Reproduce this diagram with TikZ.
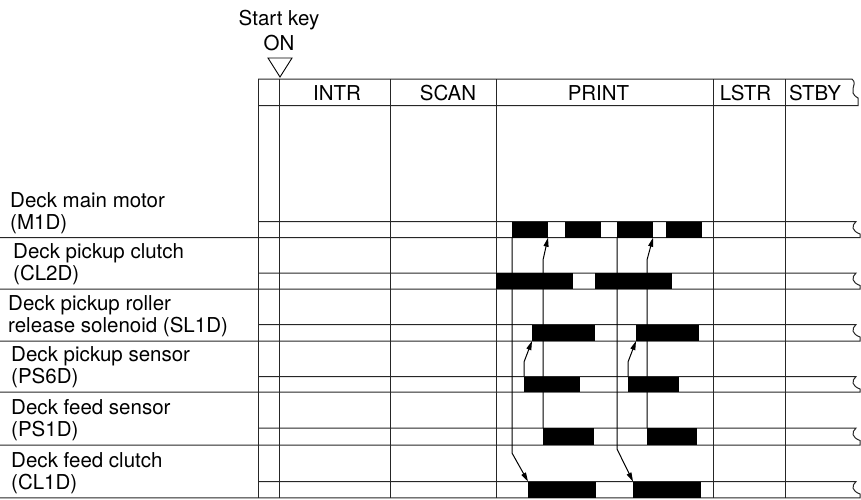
\documentclass[tikz,border=0pt]{standalone}
\usepackage{fontspec}
\setmainfont{TeX Gyre Heros}
\usetikzlibrary{fit}
\usetikzlibrary{arrows.meta,positioning}

\begin{document}
\begin{tikzpicture}[
    x=1pt,
    y=-1pt,
    >={Stealth[length=9pt,width=5pt,inset=0pt]},
    every node/.style={
        font=\fontsize{20.5}{21.5}\selectfont,
        inner sep=0pt
    },
    grid/.style={
        line width=1pt,
        black!85
    },
    bar/.style={
        rectangle,
        fill=black,
        inner sep=0pt,
        outer sep=0pt
    },
    signame/.style={
        anchor=south west,
        align=left
    },
    phase/.style={
        anchor=base
    },
    trig/.style={
        ->,
        line width=1pt
    }
]

\useasboundingbox (0,0) rectangle (861,499);

% Start key
\node[phase] (startkey) at (279,25) {Start key};
\node[phase] (on) at (279,50) {ON};
\draw[line width=0.9pt] (268,58) -- (292,58) -- (280,77) -- cycle;

% Header
\draw[grid] (258,79) -- (852,79)
    .. controls (859,85) and (846,91) .. (858,98) -- (858,105.5) -- (258,105.5);
\node[phase] (intr) at (337,100) {INTR};
\node[phase] (scan) at (448,100) {SCAN};
\node[phase] (print) at (598.5,100) {PRINT};
\node[phase] (lstr) at (745.5,100) {LSTR};
\node[phase] (stby) at (815,100) {STBY};

% Rows
\draw[grid] (258,221.5) -- (856,221.5)
    .. controls (851,226) and (852,231) .. (860,234) -- (860,237.7) -- (0,237.7);
\draw[grid] (258,273) -- (856,273)
    .. controls (851,277.5) and (852,282.5) .. (860,285.5) -- (860,289) -- (0,289);
\draw[grid] (258,324.5) -- (856,324.5)
    .. controls (851,329) and (852,334) .. (860,337) -- (860,341) -- (0,341);
\draw[grid] (258,376.5) -- (856,376.5)
    .. controls (851,381) and (852,386) .. (860,389) -- (860,392) -- (0,392);
\draw[grid] (258,428) -- (856,428)
    .. controls (851,432.5) and (852,437.5) .. (860,440.5) -- (860,445) -- (0,445);
\draw[grid] (258,481.5) -- (856,481.5)
    .. controls (851,486) and (852,491) .. (860,494) -- (860,497.8) -- (0,497.8);

% Columns
\draw[grid] (258,79) -- (258,497.8);
\draw[grid] (279,79) -- (279,497.8);
\draw[grid] (390,79) -- (390,497.8);
\draw[grid] (496,79) -- (496,497.8);
\draw[grid] (713,79) -- (713,497.8);
\draw[grid] (785,79) -- (785,497.8);

% Signal names
\node[signame] (m1d) at (10,233.7) {Deck main motor\\(M1D)};
\node[signame] (cl2d) at (13,285) {Deck pickup clutch\\(CL2D)};
\node[signame] (sl1d) at (8,337) {Deck pickup roller\\release solenoid (SL1D)};
\node[signame] (ps6d) at (11,388) {Deck pickup sensor\\(PS6D)};
\node[signame] (ps1d) at (11,441) {Deck feed sensor\\(PS1D)};
\node[signame] (cl1d) at (11,493.8) {Deck feed clutch\\(CL1D)};

% M1D
\node[bar, fit={(512,221.5) (548,237.7)}] (mA) {};
\node[bar, fit={(565,221.5) (601,237.7)}] (mB) {};
\node[bar, fit={(617,221.5) (653,237.7)}] (mC) {};
\node[bar, fit={(666,221.5) (702,237.7)}] (mD) {};

% CL2D
\node[bar, fit={(496,273) (573,289)}] (cA) {};
\node[bar, fit={(595,273) (672,289)}] (cB) {};

% SL1D
\node[bar, fit={(532,324.5) (595,341)}] (sA) {};
\node[bar, fit={(636,324.5) (699,341)}] (sB) {};

% PS6D
\node[bar, fit={(524,376.5) (580,392)}] (pA) {};
\node[bar, fit={(628,376.5) (679,392)}] (pB) {};

% PS1D
\node[bar, fit={(543,428) (594,445)}] (fA) {};
\node[bar, fit={(647,428) (697,445)}] (fB) {};

% CL1D
\node[bar, fit={(528,481.5) (596,497.8)}] (dA) {};
\node[bar, fit={(633,481.5) (701,497.8)}] (dB) {};

% Timing arrows
\coordinate (kA) at (543,260);
\coordinate (kB) at (647,260);
\coordinate (kC) at (524,362);
\coordinate (kD) at (628,362);
\coordinate (kE) at (512,453);
\coordinate (kF) at (617,449);

\draw[trig] (fA.north west) -- (kA) -- (mA.south east);
\draw[trig] (fB.north west) -- (kB) -- (mC.south east);
\draw[trig] (pA.north west) -- (kC) -- (sA.south west);
\draw[trig] (pB.north west) -- (kD) -- (sB.south west);
\draw[trig] (mA.south west) -- (kE) -- (dA.north west);
\draw[trig] (mC.south west) -- (kF) -- (dB.north west);

\end{tikzpicture}
\end{document}
